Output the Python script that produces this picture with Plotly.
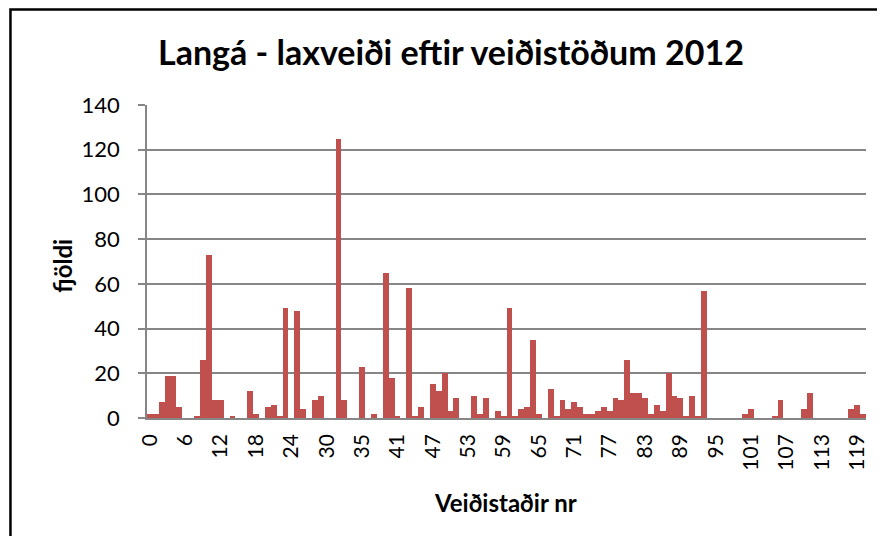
import plotly.graph_objects as go

# Categories (fishing spots); one extra spot between 30 and 35
categories = [str(i) for i in range(0, 32)] + ["31a"] + [str(i) for i in range(32, 121)]

values = [
    2, 2, 7, 19, 19, 5, 0, 0, 1, 26,
    73, 8, 8, 0, 1, 0, 0, 12, 2, 0,
    5, 6, 1, 49, 0, 48, 4, 0, 8, 10,
    0, 0, 125, 8, 0, 0, 23, 0, 2, 0,
    65, 18, 1, 0, 58, 1, 5, 0, 15, 12,
    20, 3, 9, 0, 0, 10, 2, 9, 0, 3,
    1, 49, 1, 4, 5, 35, 2, 0, 13, 1,
    8, 4, 7, 5, 2, 2, 3, 5, 3, 9,
    8, 26, 11, 11, 9, 2, 6, 3, 20, 10,
    9, 1, 10, 1, 57, 0, 0, 0, 0, 0,
    0, 2, 4, 0, 0, 0, 1, 8, 0, 0,
    0, 4, 11, 0, 0, 0, 0, 0, 0, 4,
    6, 2,
]

tick_labels = categories[::6]
y_ticks = [0, 20, 40, 60, 80, 100, 120, 140]

title_text = "Langá - laxveiði eftir veiðistöðum 2012"
x_title = "Veiðistaðir nr"
y_title = "fjöldi"

FONT = "Lato"
GRID = "#868686"

fig = go.Figure(
    go.Bar(
        x=categories,
        y=values,
        marker=dict(color="#C0504D", line=dict(width=0)),
    )
)

OFF = 8  # page body margin offset
W, H = 885 - OFF, 544 - 2 * OFF
L, R, T, B = 147.4, 865.7, 105.0, 417.7  # target plot area on screen


def px_x(p):
    return (p - L) / (R - L)


def px_y(p):
    return (B - p) / (B - T)


fig.update_layout(
    width=W,
    height=H,
    margin=dict(l=L - OFF, r=W - (R - OFF), t=T - OFF, b=H - (B - OFF), pad=0),
    paper_bgcolor="white",
    plot_bgcolor="white",
    bargap=0,
    showlegend=False,
    font=dict(family=FONT, color="black"),
    xaxis=dict(
        type="category",
        tickmode="array",
        tickvals=tick_labels,
        ticktext=tick_labels,
        tickangle=-90,
        tickfont=dict(family=FONT, size=21, color="black"),
        ticklabelstandoff=6,
        showgrid=False,
        showline=True,
        linecolor=GRID,
        linewidth=1.5,
        ticks="",
        range=[-0.5, len(categories) - 0.5],
    ),
    yaxis=dict(
        range=[0, 140],
        tickvals=y_ticks,
        tickfont=dict(family=FONT, size=22, color="black"),
        ticklabelstandoff=14,
        showgrid=True,
        gridcolor=GRID,
        gridwidth=1.5,
        showline=True,
        linecolor=GRID,
        linewidth=1.5,
        ticks="outside",
        ticklen=7,
        tickcolor=GRID,
        tickwidth=1.5,
        zeroline=False,
    ),
    annotations=[
        dict(
            text=f"<b>{title_text}</b>",
            x=px_x(451), y=px_y(52), xref="paper", yref="paper",
            xanchor="center", yanchor="middle", showarrow=False,
            font=dict(family=FONT, size=34, color="black"),
        ),
        dict(
            text=f"<b>{x_title}</b>",
            x=px_x(506), y=px_y(502), xref="paper", yref="paper",
            xanchor="center", yanchor="middle", showarrow=False,
            font=dict(family=FONT, size=24, color="black"),
        ),
        dict(
            text=f"<b>{y_title}</b>",
            x=px_x(63), y=px_y(266), xref="paper", yref="paper",
            xanchor="center", yanchor="middle", showarrow=False, textangle=-90,
            font=dict(family=FONT, size=24, color="black"),
        ),
    ],
    shapes=[
        dict(
            type="rect", xref="paper", yref="paper",
            x0=px_x(11), x1=px_x(880), y0=px_y(600), y1=px_y(9.5),
            line=dict(color="black", width=2.5), fillcolor="rgba(0,0,0,0)",
            layer="above",
        )
    ],
)

fig.write_html("out.html")
